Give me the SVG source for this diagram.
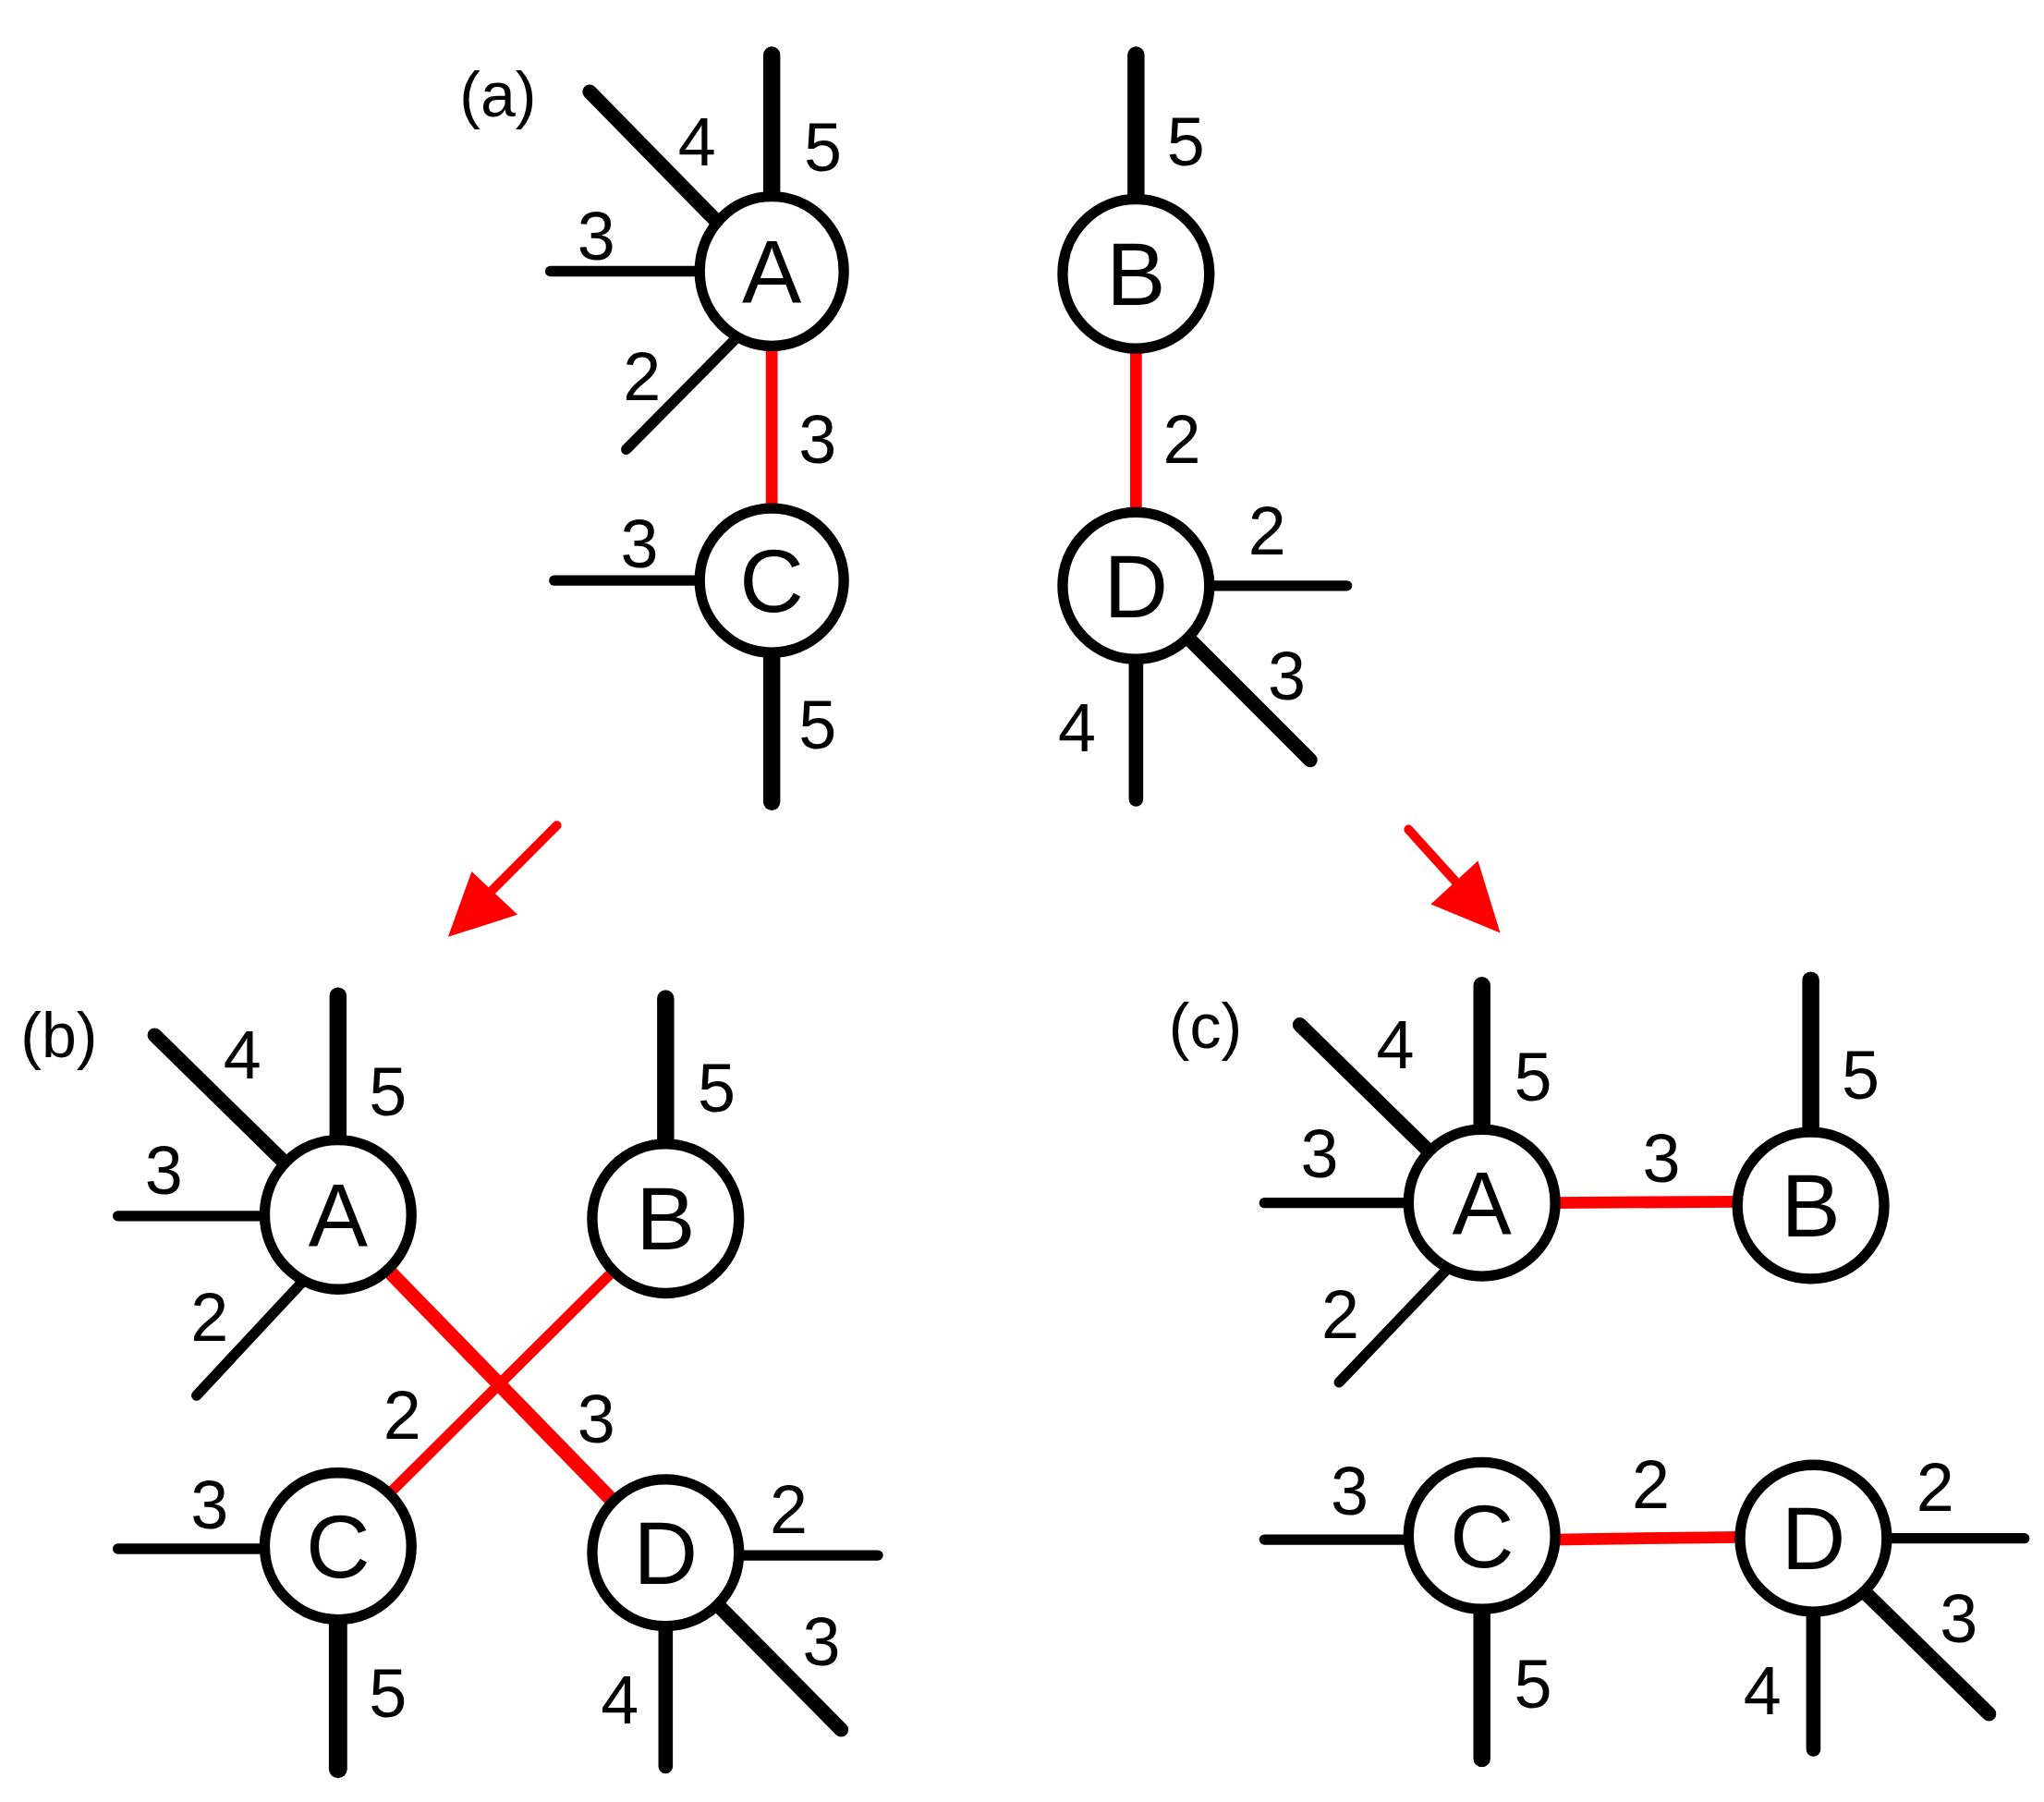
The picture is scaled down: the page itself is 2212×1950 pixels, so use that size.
<svg xmlns="http://www.w3.org/2000/svg" width="2212" height="1950" viewBox="0 0 2212 1950">
<style>
.n{fill:#fff;stroke:#000;stroke-width:8}
.e{stroke:#000;stroke-linecap:round;fill:none}
.r{stroke:#f00;stroke-linecap:round;fill:none}
text{font-family:"Liberation Sans",Arial,sans-serif;text-anchor:middle;fill:#000}
.l{font-size:68px}
.d{font-size:52px}
.p{font-size:48px}
</style>
<rect width="2212" height="1950" fill="#fff"/>
<g transform="scale(1.41795)">
<g id="connectors">
<!-- (a) -->
<line class="e" x1="589" y1="155" x2="589" y2="42" stroke-width="13"/>
<line class="e" x1="548" y1="170" x2="450" y2="70" stroke-width="11"/>
<line class="e" x1="535" y1="207" x2="420" y2="207" stroke-width="8"/>
<line class="e" x1="562" y1="258" x2="478" y2="343" stroke-width="8"/>
<line class="r" x1="589" y1="262" x2="589" y2="390" stroke-width="9"/>
<line class="e" x1="537" y1="443" x2="423" y2="443" stroke-width="8"/>
<line class="e" x1="589" y1="495" x2="589" y2="612" stroke-width="13"/>
<line class="e" x1="867" y1="158" x2="867" y2="42" stroke-width="13"/>
<line class="r" x1="867" y1="265" x2="867" y2="393" stroke-width="9"/>
<line class="e" x1="920" y1="447" x2="1028" y2="447" stroke-width="8"/>
<line class="e" x1="905" y1="485" x2="1000" y2="580" stroke-width="11"/>
<line class="e" x1="867" y1="500" x2="867" y2="610" stroke-width="11"/>
<!-- arrows -->
<line class="r" x1="425" y1="630" x2="375" y2="680" stroke-width="7"/>
<polygon points="342,715 360,665 395,698" fill="#f00"/>
<line class="r" x1="1075" y1="633" x2="1112" y2="674" stroke-width="7"/>
<polygon points="1145,712 1128,657 1092,690" fill="#f00"/>
<!-- (b) -->
<line class="e" x1="258" y1="873" x2="258" y2="760" stroke-width="13"/>
<line class="e" x1="218" y1="888" x2="118" y2="790" stroke-width="11"/>
<line class="e" x1="207" y1="928" x2="90" y2="928" stroke-width="8"/>
<line class="e" x1="232" y1="977" x2="150" y2="1065" stroke-width="8"/>
<line class="e" x1="508" y1="880" x2="508" y2="762" stroke-width="13"/>
<line class="r" x1="292" y1="965" x2="470" y2="1148" stroke-width="11"/>
<line class="r" x1="468" y1="970" x2="295" y2="1142" stroke-width="8"/>
<line class="e" x1="207" y1="1182" x2="90" y2="1182" stroke-width="8"/>
<line class="e" x1="258" y1="1232" x2="258" y2="1350" stroke-width="14"/>
<line class="e" x1="560" y1="1187" x2="670" y2="1187" stroke-width="8"/>
<line class="e" x1="545" y1="1222" x2="642" y2="1320" stroke-width="11"/>
<line class="e" x1="508" y1="1238" x2="508" y2="1348" stroke-width="11"/>
<!-- (c) -->
<line class="e" x1="1131" y1="866" x2="1131" y2="752" stroke-width="13"/>
<line class="e" x1="1092" y1="880" x2="992" y2="782" stroke-width="11"/>
<line class="e" x1="1080" y1="918" x2="965" y2="918" stroke-width="8"/>
<line class="e" x1="1105" y1="968" x2="1022" y2="1055" stroke-width="8"/>
<line class="r" x1="1185" y1="918" x2="1330" y2="917" stroke-width="9"/>
<line class="e" x1="1382" y1="868" x2="1382" y2="748" stroke-width="13"/>
<line class="e" x1="1080" y1="1175" x2="965" y2="1175" stroke-width="8"/>
<line class="e" x1="1131" y1="1224" x2="1131" y2="1342" stroke-width="13"/>
<line class="r" x1="1185" y1="1175" x2="1330" y2="1173" stroke-width="9"/>
<line class="e" x1="1437" y1="1174" x2="1545" y2="1174" stroke-width="8"/>
<line class="e" x1="1420" y1="1212" x2="1518" y2="1308" stroke-width="11"/>
<line class="e" x1="1384" y1="1226" x2="1384" y2="1335" stroke-width="11"/>
</g>
<g id="labels">
<text class="p" x="380" y="72" dy="0.35em">(a)</text>
<text class="p" x="45" y="790" dy="0.35em">(b)</text>
<text class="p" x="920" y="783" dy="0.35em">(c)</text>
<text class="d" x="628" y="112" dy="0.35em">5</text>
<text class="d" x="532" y="108" dy="0.35em">4</text>
<text class="d" x="455" y="180" dy="0.35em">3</text>
<text class="d" x="490" y="287" dy="0.35em">2</text>
<text class="d" x="624" y="335" dy="0.35em">3</text>
<text class="d" x="488" y="415" dy="0.35em">3</text>
<text class="d" x="624" y="553" dy="0.35em">5</text>
<text class="d" x="905" y="108" dy="0.35em">5</text>
<text class="d" x="902" y="335" dy="0.35em">2</text>
<text class="d" x="967" y="405" dy="0.35em">2</text>
<text class="d" x="982" y="516" dy="0.35em">3</text>
<text class="d" x="822" y="555" dy="0.35em">4</text>
<text class="d" x="296" y="833" dy="0.35em">5</text>
<text class="d" x="185" y="805" dy="0.35em">4</text>
<text class="d" x="125" y="893" dy="0.35em">3</text>
<text class="d" x="160" y="1005" dy="0.35em">2</text>
<text class="d" x="547" y="830" dy="0.35em">5</text>
<text class="d" x="307" y="1080" dy="0.35em">2</text>
<text class="d" x="455" y="1083" dy="0.35em">3</text>
<text class="d" x="160" y="1148" dy="0.35em">3</text>
<text class="d" x="296" y="1292" dy="0.35em">5</text>
<text class="d" x="602" y="1152" dy="0.35em">2</text>
<text class="d" x="627" y="1253" dy="0.35em">3</text>
<text class="d" x="473" y="1297" dy="0.35em">4</text>
<text class="d" x="1170" y="822" dy="0.35em">5</text>
<text class="d" x="1065" y="797" dy="0.35em">4</text>
<text class="d" x="1007" y="880" dy="0.35em">3</text>
<text class="d" x="1023" y="1003" dy="0.35em">2</text>
<text class="d" x="1268" y="884" dy="0.35em">3</text>
<text class="d" x="1420" y="820" dy="0.35em">5</text>
<text class="d" x="1030" y="1138" dy="0.35em">3</text>
<text class="d" x="1170" y="1285" dy="0.35em">5</text>
<text class="d" x="1260" y="1133" dy="0.35em">2</text>
<text class="d" x="1477" y="1135" dy="0.35em">2</text>
<text class="d" x="1495" y="1235" dy="0.35em">3</text>
<text class="d" x="1345" y="1290" dy="0.35em">4</text>
</g>
<g id="a-A"><ellipse class="n" cx="589" cy="207" rx="55" ry="57"/><text class="l" x="589" y="207" dy="0.35em">A</text></g>
<g id="a-C"><ellipse class="n" cx="589" cy="443" rx="55" ry="55"/><text class="l" x="589" y="443" dy="0.35em">C</text></g>
<g id="a-B"><ellipse class="n" cx="867" cy="209" rx="56" ry="57"/><text class="l" x="867" y="209" dy="0.35em">B</text></g>
<g id="a-D"><ellipse class="n" cx="867" cy="447" rx="56" ry="56"/><text class="l" x="867" y="447" dy="0.35em">D</text></g>
<g id="b-A"><ellipse class="n" cx="258" cy="927" rx="56" ry="57"/><text class="l" x="258" y="927" dy="0.35em">A</text></g>
<g id="b-B"><ellipse class="n" cx="508" cy="930" rx="56" ry="57"/><text class="l" x="508" y="930" dy="0.35em">B</text></g>
<g id="b-C"><ellipse class="n" cx="258" cy="1180" rx="56" ry="56"/><text class="l" x="258" y="1180" dy="0.35em">C</text></g>
<g id="b-D"><ellipse class="n" cx="508" cy="1185" rx="56" ry="56"/><text class="l" x="508" y="1185" dy="0.35em">D</text></g>
<g id="c-A"><ellipse class="n" cx="1131" cy="918" rx="56" ry="56"/><text class="l" x="1131" y="918" dy="0.35em">A</text></g>
<g id="c-B"><ellipse class="n" cx="1382" cy="920" rx="56" ry="56"/><text class="l" x="1382" y="920" dy="0.35em">B</text></g>
<g id="c-C"><ellipse class="n" cx="1131" cy="1172" rx="56" ry="56"/><text class="l" x="1131" y="1172" dy="0.35em">C</text></g>
<g id="c-D"><ellipse class="n" cx="1384" cy="1174" rx="56" ry="56"/><text class="l" x="1384" y="1174" dy="0.35em">D</text></g>
</g>
</svg>
